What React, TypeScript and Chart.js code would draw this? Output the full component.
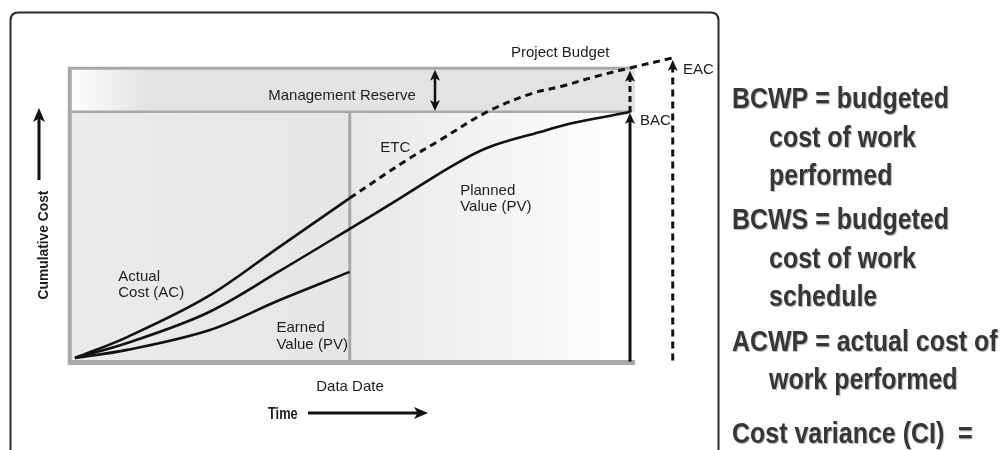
import React, { useEffect, useRef } from "react";
import { Chart, registerables } from "chart.js";

Chart.register(...registerables);

// ---- Data (time units along x, cumulative cost units along y) ----
const acTime = [0, 9.4, 23.8, 36.9, 49.5];
const acCost = [0, 8.5, 24.8, 45.3, 65.0];

const pvTime = [0, 9.4, 23.8, 36.9, 49.5, 58.6, 67.6, 74.2, 83.8, 89.7, 100];
const pvCost = [0, 6.1, 18.3, 35.4, 52.5, 65.0, 77.6, 85.4, 91.9, 95.5, 100];

const evTime = [0, 9.4, 24.3, 36.9, 49.5];
const evCost = [0, 3.3, 11.4, 23.6, 35.0];

const etcTime = [49.5, 59.8, 65.8, 74.2, 82.0, 87.9, 94.1, 100, 107.7];
const etcCost = [65.0, 80.5, 88.6, 100, 107.3, 110.6, 114.6, 117.9, 122.0];

const dataDate = 49.5;
const bacTime = 100;
const bac = 100;
const projectBudget = 118;
const eacTime = 107.7;
const eac = 122;

const curveLabels = [
  { lines: ["Actual", "Cost (AC)"], t: 7.8, c: 31.5 },
  { lines: ["Earned", "Value (PV)"], t: 36.3, c: 10.5 },
  { lines: ["Planned", "Value (PV)"], t: 69.4, c: 66.3 },
  { lines: ["ETC"], t: 55.0, c: 83.7 },
];

const definitionLines = [
  { text: "BCWP = budgeted", indent: false },
  { text: "cost of work", indent: true },
  { text: "performed", indent: true },
  { text: "BCWS = budgeted", indent: false },
  { text: "cost of work", indent: true },
  { text: "schedule", indent: true },
  { text: "ACWP = actual cost of", indent: false },
  { text: "work performed", indent: true },
  { text: "Cost variance (CI)  =", indent: false },
];
const definitionBaselines = [108, 146.5, 185, 229, 267.5, 306, 350.5, 389, 443];

const pts = (xs: number[], ys: number[]) => xs.map((x, i) => ({ x, y: ys[i] }));

const SANS = '"Liberation Sans", Arial, sans-serif';

function arrowHead(ctx: CanvasRenderingContext2D, x: number, y: number, dir: string, len: number, half: number) {
  ctx.beginPath();
  if (dir === "up") {
    ctx.moveTo(x, y);
    ctx.lineTo(x - half, y + len);
    ctx.lineTo(x, y + len * 0.75);
    ctx.lineTo(x + half, y + len);
  } else if (dir === "down") {
    ctx.moveTo(x, y);
    ctx.lineTo(x - half, y - len);
    ctx.lineTo(x, y - len * 0.75);
    ctx.lineTo(x + half, y - len);
  } else {
    ctx.moveTo(x, y);
    ctx.lineTo(x - len, y - half);
    ctx.lineTo(x - len * 0.75, y);
    ctx.lineTo(x - len, y + half);
  }
  ctx.closePath();
  ctx.fill();
}

// draw text horizontally condensed (narrow face look)
function narrowText(ctx: CanvasRenderingContext2D, s: string, x: number, y: number, sx: number) {
  ctx.save();
  ctx.translate(x, y);
  ctx.scale(sx, 1);
  ctx.fillText(s, 0, 0);
  ctx.restore();
}

const diagramPlugin = {
  id: "evmDiagram",
  beforeDatasetsDraw(chart: any) {
    const ctx: CanvasRenderingContext2D = chart.ctx;
    const xs = chart.scales.x;
    const ys = chart.scales.y;
    const X = (v: number) => xs.getPixelForValue(v);
    const Y = (v: number) => ys.getPixelForValue(v);
    const L = X(-1.3);
    const R = X(100.9);
    const T = Y(projectBudget);
    const B = Y(0);
    const yb = Y(bac);
    const dd = X(dataDate);
    ctx.save();

    // outer rounded frame
    ctx.strokeStyle = "#2a2a2a";
    ctx.lineWidth = 2;
    ctx.beginPath();
    const bx = 10.5, by = 12.5, bw = 708, r = 8;
    ctx.moveTo(bx, 470);
    ctx.lineTo(bx, by + r);
    ctx.quadraticCurveTo(bx, by, bx + r, by);
    ctx.lineTo(bx + bw - r, by);
    ctx.quadraticCurveTo(bx + bw, by, bx + bw, by + r);
    ctx.lineTo(bx + bw, 470);
    ctx.stroke();

    // management reserve band
    let g = ctx.createLinearGradient(L, 0, L + 80, 0);
    g.addColorStop(0, "#ffffff");
    g.addColorStop(1, "#e3e3e3");
    ctx.fillStyle = g;
    ctx.fillRect(L, T, R - L, yb - T);

    // left (actual) area
    g = ctx.createLinearGradient(L, 0, dd, 0);
    g.addColorStop(0, "#ebebeb");
    g.addColorStop(1, "#e6e6e6");
    ctx.fillStyle = g;
    ctx.fillRect(L, yb, dd - L, B + 4 - yb);

    // right (future) area
    g = ctx.createLinearGradient(dd, 0, R - 5, 0);
    g.addColorStop(0, "#e8e8e8");
    g.addColorStop(1, "#ffffff");
    ctx.fillStyle = g;
    ctx.fillRect(dd, yb, R - dd, B + 4 - yb);

    // gray borders
    ctx.fillStyle = "#a8a8a8";
    ctx.fillRect(L, T, 4, B + 7 - T);
    ctx.fillRect(L, T - 1, R - L - 3, 3);
    ctx.fillRect(L, B + 2, R - L, 5);
    ctx.fillRect(L, yb - 1.5, R - L - 3, 2.5);
    ctx.fillRect(dd - 1.5, yb, 3, B + 3 - yb);
    ctx.restore();
  },
  afterDatasetsDraw(chart: any) {
    const ctx: CanvasRenderingContext2D = chart.ctx;
    const xs = chart.scales.x;
    const ys = chart.scales.y;
    const X = (v: number) => xs.getPixelForValue(v);
    const Y = (v: number) => ys.getPixelForValue(v);
    ctx.save();
    ctx.fillStyle = "#111";
    ctx.strokeStyle = "#111";

    // arrowheads on BAC / EAC verticals
    arrowHead(ctx, X(bacTime), Y(bac) + 1, "up", 11, 5);
    arrowHead(ctx, X(bacTime), Y(projectBudget) + 3, "up", 11, 5);
    arrowHead(ctx, X(eacTime), Y(eac) + 2, "up", 11, 5);

    // management reserve double arrow
    const mx = 435;
    ctx.lineWidth = 2.5;
    ctx.beginPath();
    ctx.moveTo(mx, Y(projectBudget) + 8);
    ctx.lineTo(mx, Y(bac) - 8);
    ctx.stroke();
    arrowHead(ctx, mx, Y(projectBudget) + 2, "up", 11, 5);
    arrowHead(ctx, mx, Y(bac) - 1, "down", 11, 5);

    // cumulative cost arrow
    ctx.lineWidth = 3;
    ctx.beginPath();
    ctx.moveTo(39, 180);
    ctx.lineTo(39, 118);
    ctx.stroke();
    arrowHead(ctx, 39, 108, "up", 14, 6);

    // time arrow
    ctx.beginPath();
    ctx.moveTo(308, 413);
    ctx.lineTo(418, 413);
    ctx.stroke();
    arrowHead(ctx, 428, 413, "right", 14, 6);

    // texts in diagram
    ctx.fillStyle = "#1e1e1e";
    ctx.font = `15px ${SANS}`;
    ctx.textBaseline = "alphabetic";
    ctx.textAlign = "center";
    ctx.fillText("Management Reserve", 342, 100);
    ctx.fillText("Data Date", 350, 391);
    ctx.textAlign = "left";
    ctx.fillText("Project Budget", 511, 57);
    ctx.fillText("BAC", 640, 125);
    ctx.fillText("EAC", 683, 73.5);
    for (const lab of curveLabels) {
      const x = X(lab.t);
      const y = Y(lab.c);
      lab.lines.forEach((s, i) => ctx.fillText(s, x, y + i * 16.5));
    }

    ctx.font = `bold 16px ${SANS}`;
    narrowText(ctx, "Time", 268, 419, 0.8);

    ctx.save();
    ctx.translate(47.5, 245);
    ctx.rotate(-Math.PI / 2);
    ctx.textAlign = "center";
    ctx.font = `bold 15px ${SANS}`;
    ctx.scale(0.92, 1);
    ctx.fillText("Cumulative Cost", 0, 0);
    ctx.restore();

    // definitions on the right
    ctx.font = `bold 29px ${SANS}`;
    const sx = 217 / ctx.measureText("BCWP = budgeted").width;
    ctx.fillStyle = "#363636";
    ctx.shadowColor = "rgba(0,0,0,0.3)";
    ctx.shadowOffsetX = 1;
    ctx.shadowOffsetY = 1;
    ctx.shadowBlur = 1;
    definitionLines.forEach((d, i) => {
      narrowText(ctx, d.text, d.indent ? 769 : 732, definitionBaselines[i], sx);
    });
    ctx.restore();
  },
};

export default function App() {
  const ref = useRef<HTMLCanvasElement | null>(null);
  useEffect(() => {
    if (!ref.current) return;
    const line = { borderColor: "#111", borderWidth: 2.6, pointRadius: 0, fill: false, clip: false as any };
    const chart = new Chart(ref.current, {
      type: "line",
      data: {
        datasets: [
          { label: "Actual Cost (AC)", data: pts(acTime, acCost), ...line, tension: 0.35 },
          { label: "Planned Value (PV)", data: pts(pvTime, pvCost), ...line, tension: 0.35 },
          { label: "Earned Value (EV)", data: pts(evTime, evCost), ...line, tension: 0.35 },
          {
            label: "ETC",
            data: pts(etcTime, etcCost),
            ...line,
            borderWidth: 3,
            borderDash: [7, 5],
            tension: 0.35,
          },
          { label: "BAC", data: [{ x: bacTime, y: -1.5 }, { x: bacTime, y: bac - 2 }], ...line, borderWidth: 3 },
          {
            label: "Reserve",
            data: [{ x: bacTime, y: bac }, { x: bacTime, y: projectBudget - 3 }],
            ...line,
            borderWidth: 3,
            borderDash: [6, 4],
          },
          {
            label: "EAC",
            data: [{ x: eacTime, y: -1 }, { x: eacTime, y: eac - 3 }],
            ...line,
            borderWidth: 3,
            borderDash: [7, 5],
          },
        ] as any,
      },
      options: {
        animation: false,
        responsive: false,
        events: [],
        layout: { padding: { left: 63.9, right: 319.5, top: 38.2, bottom: 84.62 } },
        scales: {
          x: { type: "linear", min: -2, max: 110, display: false },
          y: { type: "linear", min: -3, max: 130, display: false },
        },
        plugins: { legend: { display: false }, tooltip: { enabled: false } },
      },
      plugins: [diagramPlugin],
    });
    return () => chart.destroy();
  }, []);
  return (
    <canvas
      ref={ref}
      width={1005}
      height={450}
      style={{ position: "fixed", left: 0, top: 0, width: 1005, height: 450, display: "block" }}
    />
  );
}
